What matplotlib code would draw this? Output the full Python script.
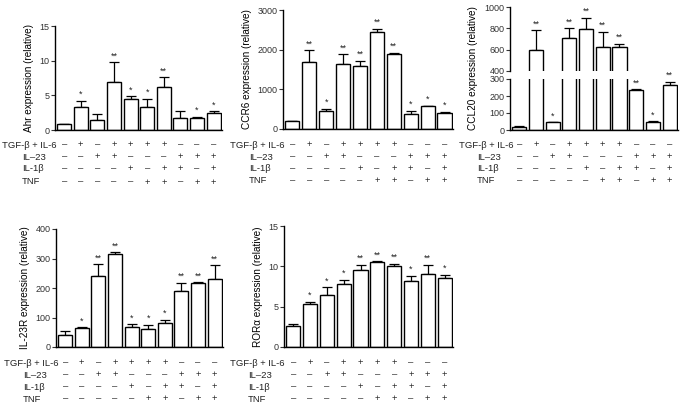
import numpy as np
import matplotlib
matplotlib.use('Agg')
import matplotlib.pyplot as plt
from matplotlib import transforms

plt.rcParams['font.family'] = ['Liberation Sans', 'DejaVu Sans']

W, H = 685, 407

# treatment table (+ / -) for the 10 conditions
row_names = ['TGF-β + IL-6', 'IL–23', 'IL-1β', 'TNF']
tgf = ['–', '+', '–', '+', '+', '+', '+', '–', '–', '–']
il23 = ['–', '–', '+', '+', '–', '–', '–', '+', '+', '+']
il1b = ['–', '–', '–', '–', '+', '–', '+', '+', '–', '+']
tnf = ['–', '–', '–', '–', '–', '+', '+', '–', '+', '+']

ahr = [0.8, 3.3, 1.4, 6.9, 4.5, 3.3, 6.2, 1.8, 1.7, 2.4]
ahr_err = [0.1, 0.9, 0.9, 2.9, 0.35, 1.2, 1.4, 0.9, 0.2, 0.3]
ahr_sig = ['', '*', '', '**', '*', '*', '**', '', '*', '*']

ccr6 = [190, 1700, 450, 1650, 1600, 2440, 1900, 380, 570, 400]
ccr6_err = [10, 280, 60, 230, 120, 80, 20, 70, 20, 30]
ccr6_sig = ['', '**', '*', '**', '**', '**', '**', '*', '*', '*']

ccl20 = [18, 600, 45, 710, 790, 625, 625, 238, 50, 265]
ccl20_err = [5, 180, 3, 90, 110, 145, 30, 5, 5, 20]
ccl20_sig = ['', '**', '*', '**', '**', '**', '**', '**', '*', '**']

il23r = [40, 63, 240, 315, 68, 61, 81, 190, 218, 232]
il23r_err = [15, 5, 42, 8, 10, 15, 12, 28, 3, 45]
il23r_sig = ['', '*', '**', '**', '*', '*', '*', '**', '**', '**']

rora = [2.6, 5.3, 6.5, 7.8, 9.5, 10.5, 10.1, 8.2, 9.0, 8.5]
rora_err = [0.25, 0.3, 0.9, 0.55, 0.7, 0.1, 0.25, 0.6, 1.2, 0.45]
rora_sig = ['', '*', '*', '*', '**', '**', '**', '*', '**', '*']

x = np.arange(10)
fs_tick = 6.5
fs_lab = 7.2
fs_tab = 6.8


def px_axes(x0, x1, y0, y1):
    # pixel box (top-left origin) -> figure axes
    return fig.add_axes([x0 / W, 1 - y1 / H, (x1 - x0) / W, (y1 - y0) / H])


def style(ax, ylim, yticks):
    ax.set_xlim(-0.55, 9.5)
    ax.set_ylim(*ylim)
    ax.set_yticks(yticks)
    ax.set_xticks([])
    for s in ['top', 'right']:
        ax.spines[s].set_visible(False)
    ax.spines['left'].set_linewidth(1.0)
    ax.spines['bottom'].set_linewidth(1.0)
    ax.tick_params(axis='y', labelsize=fs_tick, length=3, width=0.8, pad=1,
                   colors='#333333', labelcolor='#333333')
    ax.patch.set_alpha(0)


def bars(ax, vals, errs, sigs, star_off):
    ax.errorbar(x, vals, yerr=[np.zeros(10), errs], fmt='none', ecolor='black',
                elinewidth=0.9, capsize=3.5, capthick=0.9, zorder=1)
    ax.bar(x, vals, width=0.84, color='white', edgecolor='black', linewidth=1.0,
           zorder=2)
    for xi, v, e, s in zip(x, vals, errs, sigs):
        if s:
            ax.text(xi, v + e + star_off, s, ha='center', va='bottom',
                    fontsize=6.5, color='#222222', clip_on=False)


def table(ax, ys, label_x_tgf, label_x_other):
    tr = transforms.blended_transform_factory(ax.transData, fig.transFigure)
    rows = [tgf, il23, il1b, tnf]
    for i, (name, row) in enumerate(zip(row_names, rows)):
        yy = 1 - ys[i] / H
        lx = label_x_tgf if i == 0 else label_x_other
        fig.text(lx / W, yy, name, ha='left', va='center', fontsize=fs_tab,
                 color='#222222')
        for xi, sgn in zip(x, row):
            ax.text(xi, yy, sgn, ha='center', va='center', fontsize=fs_tab,
                    color='#222222', transform=tr)


fig = plt.figure(figsize=(W / 100, H / 100), dpi=100)

# Ahr
ax1 = px_axes(55, 222, 26, 130)
style(ax1, (0, 15), [0, 5, 10, 15])
bars(ax1, ahr, ahr_err, ahr_sig, 0.25)
ax1.set_ylabel('Ahr expression (relative)', fontsize=fs_lab, labelpad=4)
table(ax1, [145, 157, 169, 182], 2, 22)

# CCR6
ax2 = px_axes(283, 453, 10, 129)
style(ax2, (0, 3000), [0, 1000, 2000, 3000])
bars(ax2, ccr6, ccr6_err, ccr6_sig, 50)
ax2.set_ylabel('CCR6 expression (relative)', fontsize=fs_lab, labelpad=4)
table(ax2, [145, 157, 169, 181], 230, 249)

# CCL20 (broken axis: 0-300 below, 400-1000 above)
ax3b = px_axes(510, 678, 79, 130)
style(ax3b, (0, 300), [0, 100, 200, 300])
bars(ax3b, ccl20, ccl20_err, [s if v < 300 else '' for v, s in zip(ccl20, ccl20_sig)], 8)
ax3t = px_axes(510, 678, 7, 71)
style(ax3t, (400, 1000), [400, 600, 800, 1000])
ax3t.spines['bottom'].set_visible(False)
bars(ax3t, ccl20, ccl20_err, [s if v > 400 else '' for v, s in zip(ccl20, ccl20_sig)], 15)
fig.text(473 / W, 1 - 68 / H, 'CCL20 expression (relative)', rotation=90,
         ha='center', va='center', fontsize=fs_lab)
table(ax3b, [145, 157, 169, 181], 459, 477)

# IL-23R
ax4 = px_axes(56, 223, 229, 347)
style(ax4, (0, 400), [0, 100, 200, 300, 400])
bars(ax4, il23r, il23r_err, il23r_sig, 5)
ax4.set_ylabel('IL-23R expression (relative)', fontsize=fs_lab, labelpad=4)
table(ax4, [363, 375, 387, 399], 4, 23)

# ROR alpha
ax5 = px_axes(284, 453, 226, 347)
style(ax5, (0, 15), [0, 5, 10, 15])
bars(ax5, rora, rora_err, rora_sig, 0.25)
ax5.set_ylabel('RORα expression (relative)', fontsize=fs_lab, labelpad=4)
table(ax5, [363, 375, 387, 399], 230, 248)

fig.savefig('out.png', dpi=100)
